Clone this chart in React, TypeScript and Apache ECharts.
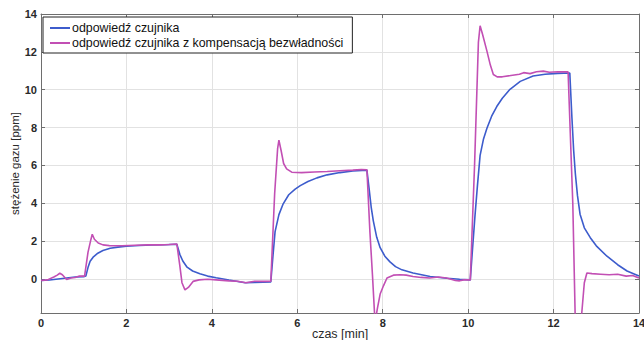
import React, { useEffect, useRef } from "react";
import * as echarts from "echarts";

const seriesNames: string[] = [
  "odpowiedź czujnika",
  "odpowiedź czujnika z kompensacją bezwładności",
];

const xAxisName = "czas [min]";
const yAxisName = "stężenie gazu [ppm]";

// [czas (min), stężenie (ppm)]
const sensorResponse: [number, number][] = [
  [0, -0.08], [0.2, -0.06], [0.4, 0.0], [0.6, 0.05], [0.8, 0.1], [1.0, 0.12], [1.05, 0.15],
  [1.1, 0.6], [1.15, 0.93], [1.22, 1.15], [1.33, 1.36], [1.45, 1.5], [1.62, 1.62], [1.8, 1.68],
  [2.0, 1.73], [2.3, 1.77], [2.6, 1.79], [2.9, 1.81], [3.18, 1.83], [3.25, 1.3], [3.32, 0.95],
  [3.42, 0.62], [3.55, 0.42], [3.72, 0.27], [3.9, 0.15], [4.1, 0.06], [4.4, -0.06], [4.78, -0.2],
  [5.0, -0.18], [5.2, -0.17], [5.38, -0.16], [5.43, 1.2], [5.48, 2.5], [5.57, 3.4], [5.67, 3.97],
  [5.8, 4.45], [5.95, 4.75], [6.07, 4.93], [6.25, 5.15], [6.46, 5.34], [6.7, 5.5], [7.0, 5.62],
  [7.3, 5.7], [7.63, 5.75], [7.68, 4.8], [7.73, 3.8], [7.78, 3.07], [7.86, 2.2], [7.94, 1.65],
  [8.05, 1.2], [8.17, 0.9], [8.3, 0.65], [8.45, 0.48], [8.71, 0.31], [9.11, 0.13], [9.5, 0.04],
  [9.8, -0.02], [10.05, -0.05], [10.1, 1.5], [10.16, 3.33], [10.22, 5.0], [10.28, 6.53],
  [10.36, 7.4], [10.44, 7.96], [10.55, 8.6], [10.67, 9.11], [10.8, 9.55], [10.98, 10.02],
  [11.22, 10.44], [11.52, 10.72], [11.8, 10.82], [12.1, 10.86], [12.38, 10.88], [12.43, 8.5],
  [12.47, 6.8], [12.51, 5.56], [12.56, 4.4], [12.62, 3.42], [12.72, 2.7], [12.86, 2.18],
  [13.0, 1.75], [13.25, 1.2], [13.5, 0.75], [13.72, 0.42], [13.9, 0.25], [14.0, 0.15],
];

const compensatedResponse: [number, number][] = [
  [0, -0.08], [0.15, -0.05], [0.3, 0.1], [0.38, 0.2], [0.44, 0.3], [0.5, 0.22], [0.6, -0.03],
  [0.7, 0.05], [0.8, 0.08], [0.9, 0.15], [1.02, 0.15], [1.1, 1.4], [1.17, 2.1], [1.2, 2.36],
  [1.25, 2.1], [1.34, 1.9], [1.45, 1.8], [1.6, 1.76], [1.9, 1.75], [2.2, 1.78], [2.5, 1.8],
  [2.8, 1.8], [3.0, 1.82], [3.18, 1.85], [3.25, 0.7], [3.3, -0.2], [3.37, -0.58], [3.45, -0.45],
  [3.56, -0.13], [3.7, -0.05], [3.9, -0.02], [4.1, -0.05], [4.4, -0.1], [4.6, -0.12], [4.8, -0.2],
  [5.0, -0.12], [5.2, -0.13], [5.38, -0.12], [5.47, 4.5], [5.54, 6.9], [5.57, 7.33], [5.62, 6.8],
  [5.68, 6.1], [5.75, 5.82], [5.87, 5.64], [6.1, 5.62], [6.4, 5.65], [6.7, 5.68], [7.0, 5.72],
  [7.3, 5.75], [7.5, 5.78], [7.63, 5.77], [7.7, 2.5], [7.76, 0.2], [7.82, -2.3], [7.88, -1.5],
  [7.94, -0.8], [8.02, -0.35], [8.1, 0.05], [8.25, 0.2], [8.41, 0.22], [8.55, 0.2], [8.71, 0.13],
  [8.9, 0.08], [9.1, 0.05], [9.3, 0.1], [9.5, 0.05], [9.7, -0.08], [9.8, -0.1], [9.9, -0.05],
  [10.05, -0.05], [10.15, 6.0], [10.24, 12.5], [10.28, 13.38], [10.34, 12.9], [10.44, 12.04],
  [10.52, 11.3], [10.59, 10.8], [10.68, 10.68], [10.8, 10.68], [11.0, 10.75], [11.2, 10.82],
  [11.3, 10.9], [11.45, 10.85], [11.6, 10.95], [11.76, 10.98], [11.9, 10.92], [12.1, 10.95],
  [12.34, 10.94], [12.45, 4.0], [12.52, -3.5], [12.6, -3.5], [12.66, -1.8], [12.72, -0.2],
  [12.78, 0.31], [12.9, 0.28], [13.1, 0.25], [13.3, 0.22], [13.5, 0.25], [13.7, 0.15],
  [13.85, 0.18], [14.0, 0.05],
];

const xMin = 0;
const xMax = 14;
const xInterval = 2;
const yMin = -1.8;
const yMax = 14;

export default function App() {
  const ref = useRef<HTMLDivElement>(null);

  useEffect(() => {
    document.body.style.margin = "0";
    if (!ref.current) return;
    const chart = echarts.init(ref.current, undefined, { renderer: "svg" });
    const font = "'Liberation Sans', Arial, sans-serif";
    const frameColor = "#6e6e6e";
    const tickStyle = { show: true, inside: true, length: 4, lineStyle: { color: frameColor } };
    const tickLabel = { fontFamily: font, fontSize: 11, fontWeight: "bold", color: "#2a2a2a" };

    chart.setOption({
      animation: false,
      backgroundColor: "#ffffff",
      textStyle: { fontFamily: font },
      grid: {
        left: 41,
        right: 5,
        top: 14,
        bottom: 27,
        containLabel: false,
        outerBoundsMode: "none",
      },
      legend: {
        left: 43,
        top: 17,
        orient: "vertical",
        data: seriesNames,
        icon: "rect",
        itemWidth: 20,
        itemHeight: 2,
        itemGap: 1,
        padding: [4, 9, 3, 7],
        borderColor: "#222",
        borderWidth: 1,
        backgroundColor: "#ffffff",
        textStyle: {
          fontFamily: font,
          fontSize: 12.4,
          lineHeight: 14,
          color: "#111",
          padding: [0, 0, 0, -3],
        },
      },
      xAxis: [
        {
          type: "value",
          position: "bottom",
          min: xMin,
          max: xMax,
          interval: xInterval,
          name: xAxisName,
          nameLocation: "middle",
          nameGap: 14,
          nameMoveOverlap: false,
          nameTextStyle: { fontFamily: font, fontSize: 12.5, color: "#2a2a2a" },
          axisLine: { show: true, onZero: false, lineStyle: { color: frameColor, width: 1 } },
          axisTick: tickStyle,
          axisLabel: { margin: 4, ...tickLabel },
          splitLine: { show: true, lineStyle: { color: "#e2e2e2", width: 1 } },
        },
        {
          type: "value",
          position: "top",
          min: xMin,
          max: xMax,
          interval: xInterval,
          axisLine: { show: true, onZero: false, lineStyle: { color: frameColor, width: 1 } },
          axisTick: tickStyle,
          axisLabel: { show: false },
          splitLine: { show: false },
        },
      ],
      yAxis: [
        {
          type: "value",
          position: "left",
          min: yMin,
          max: yMax,
          splitNumber: 8,
          name: yAxisName,
          nameLocation: "middle",
          nameGap: 20,
          nameMoveOverlap: false,
          nameTextStyle: { fontFamily: font, fontSize: 11.5, color: "#2a2a2a" },
          axisLine: { show: true, onZero: false, lineStyle: { color: frameColor, width: 1 } },
          axisTick: tickStyle,
          axisLabel: {
            margin: 4,
            ...tickLabel,
            formatter: (v: number) => (v < -1 ? "" : String(v)),
          },
          splitLine: { show: true, lineStyle: { color: "#e2e2e2", width: 1 } },
        },
        {
          type: "value",
          position: "right",
          min: yMin,
          max: yMax,
          splitNumber: 8,
          axisLine: { show: true, onZero: false, lineStyle: { color: frameColor, width: 1 } },
          axisTick: tickStyle,
          axisLabel: { show: false },
          splitLine: { show: false },
        },
      ],
      series: [
        {
          name: seriesNames[0],
          type: "line",
          xAxisIndex: 0,
          yAxisIndex: 0,
          data: sensorResponse,
          showSymbol: false,
          symbol: "none",
          clip: true,
          lineStyle: { color: "#3d5ccc", width: 1.6 },
          itemStyle: { color: "#3d5ccc" },
        },
        {
          name: seriesNames[1],
          type: "line",
          xAxisIndex: 0,
          yAxisIndex: 0,
          data: compensatedResponse,
          showSymbol: false,
          symbol: "none",
          clip: true,
          lineStyle: { color: "#c24fb4", width: 1.6 },
          itemStyle: { color: "#c24fb4" },
        },
      ],
    });

    return () => chart.dispose();
  }, []);

  return (
    <div
      ref={ref}
      style={{ position: "fixed", left: 0, top: 0, width: 644, height: 340, background: "#fff" }}
    />
  );
}
